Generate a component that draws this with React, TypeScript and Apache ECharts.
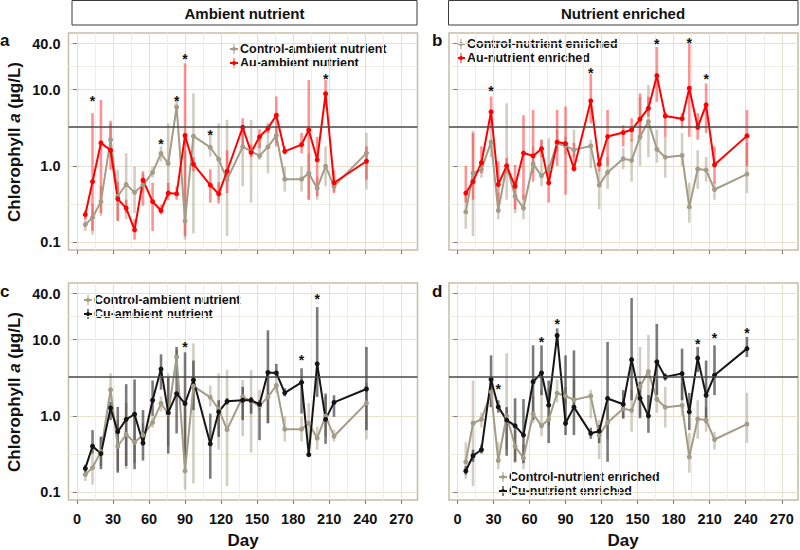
import React, { useEffect, useRef } from "react";
import * as echarts from "echarts";

// ---------- data ----------
const days = [7, 13, 20, 28, 34, 41, 48, 55, 63, 70, 76, 83, 90, 97, 111, 118, 125, 138, 145, 152, 159, 166, 173, 187, 193, 200, 207, 214, 241];

const ctrlAmbMean = [0.17, 0.21, 0.34, 2.2, 0.4, 0.57, 0.45, 0.56, 0.82, 1.45, 1.07, 5.9, 0.19, 2.45, 1.75, 1.22, 0.66, 1.78, 1.55, 1.35, 1.77, 2.5, 0.67, 0.67, 0.8, 0.51, 0.99, 0.54, 1.47];
const ctrlAmbLow = [0.14, 0.125, 0.22, 1.3, 0.19, 0.2, 0.24, 0.45, 0.7, 1.14, 0.4, 4.9, 0.108, 0.13, 1.32, 0.36, 0.12, 0.54, 0.33, 1.2, 0.8, 2.0, 0.46, 0.46, 0.36, 0.36, 0.54, 0.46, 0.49];
const ctrlAmbHigh = [0.21, 0.32, 0.54, 3.6, 0.89, 1.46, 0.98, 0.8, 0.98, 1.8, 3.6, 7.3, 1.6, 8.9, 2.5, 3.6, 4.0, 2.95, 4.0, 2.2, 3.3, 3.3, 0.98, 0.98, 1.46, 0.72, 1.8, 0.66, 2.7];

const auAmbMean = [0.23, 0.62, 2.0, 1.6, 0.37, 0.28, 0.145, 0.65, 0.34, 0.26, 0.44, 0.43, 2.5, 1.05, 0.56, 0.43, 0.85, 3.2, 1.5, 2.4, 3.1, 4.6, 1.55, 1.9, 2.95, 1.2, 8.8, 0.6, 1.15];
const auAmbLow = [0.2, 0.14, 0.24, 0.89, 0.19, 0.24, 0.108, 0.3, 0.14, 0.23, 0.36, 0.36, 0.12, 0.85, 0.33, 0.32, 0.44, 1.8, 1.3, 1.7, 2.7, 1.8, 1.4, 1.46, 0.36, 0.4, 6.0, 0.44, 0.66];
const auAmbHigh = [0.26, 4.9, 7.3, 3.9, 0.62, 0.36, 0.2, 0.85, 0.6, 0.31, 0.6, 0.54, 22, 1.3, 0.9, 0.61, 1.6, 4.2, 1.9, 3.0, 3.6, 8.1, 1.8, 2.7, 13.3, 2.4, 13.3, 0.89, 1.8];

const cuAmbMean = [0.205, 0.4, 0.32, 1.27, 0.62, 0.9, 1.05, 0.44, 1.6, 4.1, 1.1, 1.95, 1.45, 2.95, 0.43, 1.13, 1.55, 1.6, 1.6, 1.42, 3.7, 3.65, 2.0, 2.75, 0.31, 4.8, 0.9, 1.5, 2.25];
const cuAmbLow = [0.18, 0.32, 0.2, 0.88, 0.18, 0.22, 0.2, 0.26, 1.0, 2.2, 0.32, 0.59, 0.25, 1.19, 0.15, 0.53, 1.4, 0.88, 1.07, 0.48, 0.8, 3.2, 1.8, 1.07, 0.3, 1.77, 0.43, 0.97, 0.65];
const cuAmbHigh = [0.23, 0.65, 0.53, 1.52, 1.31, 2.6, 3.0, 1.19, 2.9, 6.4, 3.2, 8.0, 6.8, 5.3, 1.07, 1.6, 1.7, 2.4, 1.77, 1.6, 13.2, 4.8, 2.3, 4.2, 0.33, 26.6, 1.96, 1.86, 8.0];

const ctrlEnrMean = [0.25, 0.8, 0.9, 2.05, 0.26, 1.0, 0.4, 0.28, 1.06, 0.74, 0.9, 1.98, 1.82, 1.62, 1.82, 0.56, 0.82, 1.24, 1.18, 2.4, 3.8, 1.65, 1.3, 1.37, 0.29, 0.91, 0.88, 0.49, 0.78];
const ctrlEnrLow = [0.15, 0.12, 0.7, 1.3, 0.2, 0.36, 0.24, 0.2, 0.8, 0.54, 0.75, 1.5, 1.4, 1.3, 0.93, 0.27, 0.5, 0.9, 0.62, 1.0, 1.3, 1.1, 0.7, 1.0, 0.18, 0.5, 0.62, 0.36, 0.44];
const ctrlEnrHigh = [0.45, 2.9, 1.1, 3.1, 0.45, 6.6, 0.66, 0.42, 1.8, 2.2, 2.3, 3.0, 2.4, 3.0, 2.2, 0.89, 1.3, 1.7, 2.2, 8.0, 11.5, 3.0, 2.4, 2.7, 0.6, 1.6, 1.3, 0.62, 2.0];

const auEnrMean = [0.44, 0.62, 1.1, 5.1, 0.57, 1.0, 0.54, 1.47, 1.35, 1.68, 0.6, 2.05, 1.96, 0.92, 7.1, 1.05, 2.42, 2.73, 2.97, 4.1, 5.7, 15.2, 4.5, 4.15, 10.4, 3.2, 6.3, 1.03, 2.47];
const auEnrLow = [0.33, 0.36, 0.8, 3.1, 0.3, 0.8, 0.27, 0.36, 0.62, 1.3, 0.33, 1.0, 0.42, 0.84, 3.6, 0.85, 1.0, 1.8, 2.1, 2.2, 4.4, 6.9, 2.4, 3.1, 2.4, 2.2, 2.7, 0.59, 1.0];
const auEnrHigh = [1.0, 2.7, 1.8, 8.1, 1.14, 1.27, 1.03, 4.6, 5.4, 2.2, 1.03, 5.4, 6.0, 2.0, 16, 1.3, 5.4, 3.4, 4.2, 8.9, 8.0, 36, 5.1, 4.9, 40, 4.9, 12, 1.8, 5.4];

const cuEnrMean = [0.19, 0.3, 0.36, 3.0, 1.31, 0.88, 0.74, 0.56, 2.8, 3.65, 1.38, 11.3, 0.8, 1.3, 0.59, 0.63, 1.69, 1.42, 5.45, 1.7, 1.0, 5.1, 3.24, 3.58, 1.13, 5.7, 1.86, 3.4, 7.6];
const cuEnrLow = [0.17, 0.25, 0.32, 1.3, 1.1, 0.3, 0.25, 0.24, 0.88, 1.87, 0.44, 8.4, 0.56, 0.56, 0.5, 0.44, 0.25, 0.93, 1.6, 0.93, 0.6, 1.87, 2.9, 1.6, 0.65, 3.75, 0.8, 1.87, 5.9];
const cuEnrHigh = [0.22, 0.36, 0.42, 6.2, 1.6, 1.3, 1.7, 1.66, 8.4, 8.4, 2.9, 14, 6.2, 7.2, 0.7, 0.76, 9.3, 2.17, 35, 2.8, 1.87, 16, 3.6, 7.6, 2.0, 8.0, 5.3, 8.4, 10.8];

// significance markers: [day, height]
const starsA = [[13, 8.1], [70, 2.2], [83, 8.1], [90, 28], [111, 2.9], [207, 15.5]];
const starsB = [[28, 10.7], [111, 18.3], [166, 44], [193, 46.5], [207, 15.5]];
const starsC = [[90, 9.0], [187, 6.0], [200, 38]];
const starsD = [[34, 2.5], [70, 10.5], [83, 18], [200, 10], [214, 11.7], [241, 13.8]];

const xTicks = [0, 30, 60, 90, 120, 150, 180, 210, 240, 270];
const xMinorTicks = [15, 45, 75, 105, 135, 165, 195, 225, 255];
const yTicks = [0.1, 1, 10, 40];
const yMinorTicks = [0.316, 3.16, 20];
const threshold = 3.3;

const nameCtrlAmb = "Control-ambient nutrient";
const nameAuAmb = "Au-ambient nutrient";
const nameCuAmb = "Cu-ambient nutrient";
const nameCtrlEnr = "Control-nutrient enriched";
const nameAuEnr = "Au-nutrient enriched";
const nameCuEnr = "Cu-nutrient enriched";

// ---------- styling ----------
const FONT = '"Liberation Sans", Arial, Helvetica, sans-serif';
const GRAY = "#a59c88";
const RED = "#ff0000";
const BLACK = "#151515";
const GRAY_ERR = "rgba(175,166,142,0.55)";
const RED_ERR = "rgba(255,40,40,0.5)";
const BLACK_ERR = "rgba(35,35,35,0.6)";
const GRID_MAJOR = "#e6e1cf";
const GRID_MINOR = "#f0ede2";
const FRAME = "#c6bca8";

const GRID_W = 349;
const GRID_H = 217;
const X_MIN = -7;
const X_MAX = 283.5;
const Y_MIN = 0.079;
const Y_MAX = 55;

type Panel = {
  left: number;
  top: number;
  showX: boolean;
  showY: boolean;
  ctrl: { name: string; mean: number[]; low: number[]; high: number[] };
  treat: { name: string; mean: number[]; low: number[]; high: number[]; color: string; err: string };
  stars: number[][];
};

const panels: Panel[] = [
  {
    left: 68.5, top: 33, showX: false, showY: true,
    ctrl: { name: nameCtrlAmb, mean: ctrlAmbMean, low: ctrlAmbLow, high: ctrlAmbHigh },
    treat: { name: nameAuAmb, mean: auAmbMean, low: auAmbLow, high: auAmbHigh, color: RED, err: RED_ERR },
    stars: starsA,
  },
  {
    left: 449, top: 33, showX: false, showY: false,
    ctrl: { name: nameCtrlEnr, mean: ctrlEnrMean, low: ctrlEnrLow, high: ctrlEnrHigh },
    treat: { name: nameAuEnr, mean: auEnrMean, low: auEnrLow, high: auEnrHigh, color: RED, err: RED_ERR },
    stars: starsB,
  },
  {
    left: 68.5, top: 283, showX: true, showY: true,
    ctrl: { name: nameCtrlAmb, mean: ctrlAmbMean, low: ctrlAmbLow, high: ctrlAmbHigh },
    treat: { name: nameCuAmb, mean: cuAmbMean, low: cuAmbLow, high: cuAmbHigh, color: BLACK, err: BLACK_ERR },
    stars: starsC,
  },
  {
    left: 449, top: 283, showX: true, showY: false,
    ctrl: { name: nameCtrlEnr, mean: ctrlEnrMean, low: ctrlEnrLow, high: ctrlEnrHigh },
    treat: { name: nameCuEnr, mean: cuEnrMean, low: cuEnrLow, high: cuEnrHigh, color: BLACK, err: BLACK_ERR },
    stars: starsD,
  },
];

function errorBars(name: string, color: string, low: number[], high: number[], gi: number) {
  return {
    type: "custom",
    name: name + " error",
    xAxisIndex: gi * 2,
    yAxisIndex: gi * 2,
    silent: true,
    data: days.map((d, i) => [d, low[i], high[i]]),
    encode: { x: 0, y: [1, 2] },
    renderItem: (_p: any, api: any) => {
      const a = api.coord([api.value(0), api.value(1)]);
      const b = api.coord([api.value(0), api.value(2)]);
      return {
        type: "line",
        shape: { x1: a[0], y1: a[1], x2: b[0], y2: b[1] },
        style: { stroke: color, lineWidth: 2.6 },
      };
    },
  };
}

function meanLine(name: string, color: string, mean: number[], gi: number, withThreshold: boolean) {
  const s: any = {
    type: "line",
    name,
    xAxisIndex: gi * 2,
    yAxisIndex: gi * 2,
    silent: true,
    data: days.map((d, i) => [d, mean[i]]),
    symbol: "circle",
    symbolSize: 5,
    showSymbol: true,
    lineStyle: { color, width: 2 },
    itemStyle: { color },
  };
  if (withThreshold) {
    s.markLine = {
      silent: true,
      symbol: ["none", "none"],
      label: { show: false },
      lineStyle: { color: "#4a4a4a", width: 1.5, type: "solid" },
      data: [{ yAxis: threshold }],
    };
  }
  return s;
}

function starSeries(stars: number[][], gi: number) {
  return {
    type: "custom",
    name: "sig" + gi,
    xAxisIndex: gi * 2,
    yAxisIndex: gi * 2,
    silent: true,
    data: stars,
    renderItem: (_p: any, api: any) => {
      const p = api.coord([api.value(0), api.value(1)]);
      return {
        type: "text",
        x: p[0],
        y: p[1] + 4,
        style: {
          text: "*",
          fill: "#111",
          fontSize: 14,
          fontWeight: "bold",
          fontFamily: FONT,
          align: "center",
          verticalAlign: "middle",
        },
      };
    },
  };
}

function legendItems(x: number, y0: number, entries: { name: string; color: string; err: string }[]) {
  const els: any[] = [];
  entries.forEach((e, k) => {
    const y = y0 + k * 14;
    els.push({ type: "line", silent: true, shape: { x1: x, y1: y - 5, x2: x, y2: y + 5 }, style: { stroke: e.err, lineWidth: 2 } });
    els.push({ type: "line", silent: true, shape: { x1: x - 4, y1: y, x2: x + 4, y2: y }, style: { stroke: e.color, lineWidth: 2 } });
    els.push({ type: "circle", silent: true, shape: { cx: x, cy: y, r: 2 }, style: { fill: e.color } });
    els.push({
      type: "text", silent: true, x: x + 6, y,
      style: { text: e.name, fill: "#111", fontSize: 12.5, fontWeight: "bold", fontFamily: FONT, align: "left", verticalAlign: "middle" },
    });
  });
  return els;
}

function buildOption() {
  const grid: any[] = [];
  const xAxis: any[] = [];
  const yAxis: any[] = [];
  const series: any[] = [];

  panels.forEach((p, gi) => {
    grid.push({
      left: p.left, top: p.top, width: GRID_W, height: GRID_H,
      show: true, borderColor: FRAME, borderWidth: 1.5, backgroundColor: "transparent",
      containLabel: false,
    });
    xAxis.push({
      gridIndex: gi, type: "value", min: X_MIN, max: X_MAX, position: "bottom",
      axisLine: { show: false },
      axisTick: { show: true, customValues: xTicks, length: 4, lineStyle: { color: "#7a7a7a", width: 1 } },
      axisLabel: {
        show: p.showX, customValues: xTicks, margin: 11,
        color: "#111", fontSize: 14.5, fontWeight: "bold", fontFamily: FONT,
      },
      splitLine: { show: true, lineStyle: { color: GRID_MAJOR, width: 1 } },
    });
    xAxis.push({
      gridIndex: gi, type: "value", min: X_MIN, max: X_MAX, position: "bottom",
      axisLine: { show: false },
      axisTick: { show: false, customValues: xMinorTicks },
      axisLabel: { show: false },
      splitLine: { show: true, lineStyle: { color: GRID_MINOR, width: 1 } },
    });
    yAxis.push({
      gridIndex: gi, type: "log", logBase: 10, min: Y_MIN, max: Y_MAX,
      axisLine: { show: false },
      axisTick: { show: true, customValues: yTicks, length: 4, lineStyle: { color: "#7a7a7a", width: 1 } },
      axisLabel: {
        show: p.showY, customValues: yTicks, margin: 8,
        formatter: (v: number) => Number(v).toFixed(1),
        color: "#111", fontSize: 14.5, fontWeight: "bold", fontFamily: FONT,
      },
      splitLine: { show: true, lineStyle: { color: GRID_MAJOR, width: 1 } },
    });
    yAxis.push({
      gridIndex: gi, type: "log", logBase: 10, min: Y_MIN, max: Y_MAX,
      axisLine: { show: false },
      axisTick: { show: false, customValues: yMinorTicks },
      axisLabel: { show: false },
      splitLine: { show: true, lineStyle: { color: GRID_MINOR, width: 1 } },
    });

    series.push(errorBars(p.ctrl.name, GRAY_ERR, p.ctrl.low, p.ctrl.high, gi));
    series.push(errorBars(p.treat.name, p.treat.err, p.treat.low, p.treat.high, gi));
    series.push(meanLine(p.ctrl.name, GRAY, p.ctrl.mean, gi, true));
    series.push(meanLine(p.treat.name, p.treat.color, p.treat.mean, gi, false));
    series.push(starSeries(p.stars, gi));
  });

  const titleStyle = { fill: "#111", fontWeight: "bold", fontFamily: FONT };
  const richA = { i: { fontStyle: "italic", fontWeight: "bold", fontSize: 17, fontFamily: FONT, fill: "#111" } };
  const graphic: any[] = [
    // strip headers
    { type: "rect", silent: true, shape: { x: 72, y: 0.5, width: 345, height: 24.5 }, style: { fill: "#fff", stroke: "#3a3a3a", lineWidth: 1 } },
    { type: "text", silent: true, x: 244.5, y: 13, style: { ...titleStyle, text: "Ambient nutrient", fontSize: 15, align: "center", verticalAlign: "middle" } },
    { type: "rect", silent: true, shape: { x: 448.5, y: 0.5, width: 349.5, height: 24.5 }, style: { fill: "#fff", stroke: "#3a3a3a", lineWidth: 1 } },
    { type: "text", silent: true, x: 623, y: 13, style: { ...titleStyle, text: "Nutrient enriched", fontSize: 15, align: "center", verticalAlign: "middle" } },
    // panel letters
    { type: "text", silent: true, x: 0, y: 40, style: { ...titleStyle, text: "a", fontSize: 17, align: "left", verticalAlign: "middle" } },
    { type: "text", silent: true, x: 432, y: 40, style: { ...titleStyle, text: "b", fontSize: 17, align: "left", verticalAlign: "middle" } },
    { type: "text", silent: true, x: 0, y: 291, style: { ...titleStyle, text: "c", fontSize: 17, align: "left", verticalAlign: "middle" } },
    { type: "text", silent: true, x: 432, y: 291, style: { ...titleStyle, text: "d", fontSize: 17, align: "left", verticalAlign: "middle" } },
    // y axis titles
    {
      type: "text", silent: true, x: 14, y: 142, rotation: Math.PI / 2,
      style: { ...titleStyle, text: "Chlorophyll {i|a} (µg/L)", fontSize: 17, align: "center", verticalAlign: "middle", rich: richA },
    },
    {
      type: "text", silent: true, x: 14, y: 392, rotation: Math.PI / 2,
      style: { ...titleStyle, text: "Chlorophyll {i|a} (µg/L)", fontSize: 17, align: "center", verticalAlign: "middle", rich: richA },
    },
    // x axis titles
    { type: "text", silent: true, x: 243, y: 540, style: { ...titleStyle, text: "Day", fontSize: 17, align: "center", verticalAlign: "middle" } },
    { type: "text", silent: true, x: 623, y: 540, style: { ...titleStyle, text: "Day", fontSize: 17, align: "center", verticalAlign: "middle" } },
    // legends
    ...legendItems(234, 49, [
      { name: nameCtrlAmb, color: GRAY, err: GRAY_ERR },
      { name: nameAuAmb, color: RED, err: RED_ERR },
    ]),
    ...legendItems(461, 44, [
      { name: nameCtrlEnr, color: GRAY, err: GRAY_ERR },
      { name: nameAuEnr, color: RED, err: RED_ERR },
    ]),
    ...legendItems(88, 300, [
      { name: nameCtrlAmb, color: GRAY, err: GRAY_ERR },
      { name: nameCuAmb, color: BLACK, err: BLACK_ERR },
    ]),
    ...legendItems(503, 477, [
      { name: nameCtrlEnr, color: GRAY, err: GRAY_ERR },
      { name: nameCuEnr, color: BLACK, err: BLACK_ERR },
    ]),
  ];

  return {
    animation: false,
    backgroundColor: "#ffffff",
    textStyle: { fontFamily: FONT },
    grid,
    xAxis,
    yAxis,
    series,
    graphic,
  };
}

export default function App() {
  const ref = useRef<HTMLDivElement | null>(null);
  useEffect(() => {
    if (!ref.current) return;
    const chart = echarts.init(ref.current, undefined, { renderer: "svg" });
    chart.setOption(buildOption() as any);
    return () => chart.dispose();
  }, []);
  return <div ref={ref} style={{ position: "absolute", left: 0, top: 0, width: 800, height: 550 }} />;
}
